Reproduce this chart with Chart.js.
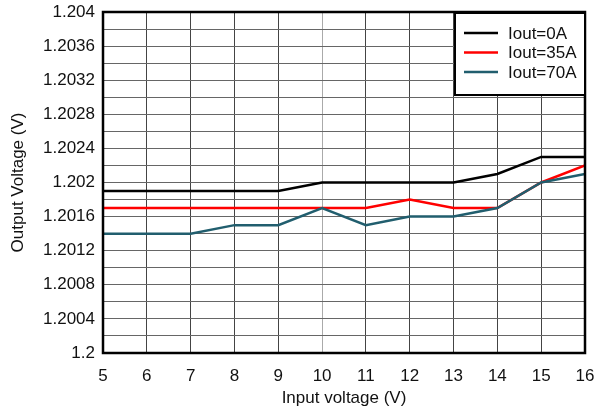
<!DOCTYPE html>
<html>
<head>
<meta charset="utf-8">
<script src="https://cdn.jsdelivr.net/npm/chart.js@4"></script>
<style>
  html, body { margin: 0; padding: 0; background: #fff; }
  #wrap { width: 595px; height: 411px; }
</style>
</head>
<body>
<div id="wrap"><canvas id="voutChart" width="595" height="411"></canvas></div>
<script>
// --- data ---
const inputVoltage = [5, 6, 7, 8, 9, 10, 11, 12, 13, 14, 15, 16];
const vout0A  = [1.2019, 1.2019, 1.2019, 1.2019, 1.2019, 1.2020, 1.2020, 1.2020, 1.2020, 1.2021, 1.2023, 1.2023];
const vout35A = [1.2017, 1.2017, 1.2017, 1.2017, 1.2017, 1.2017, 1.2017, 1.2018, 1.2017, 1.2017, 1.2020, 1.2022];
const vout70A = [1.2014, 1.2014, 1.2014, 1.2015, 1.2015, 1.2017, 1.2015, 1.2016, 1.2016, 1.2017, 1.2020, 1.2021];
const seriesNames = ['Iout=0A', 'Iout=35A', 'Iout=70A'];
const seriesColors = ['#000000', '#ff0000', '#215e6e'];

const FONT = 'Arial, "Liberation Sans", sans-serif';
const FSIZE = 17;

function toPoints(ys) {
    return inputVoltage.map((x, i) => ({ x: x, y: ys[i] }));
}

// plot border + boxed legend inside the plot
const framePlugin = {
    id: 'frame',
    afterDatasetsDraw(chart) {
        const { ctx, chartArea: a } = chart;
        ctx.save();
        ctx.strokeStyle = '#000';
        ctx.lineWidth = 2.5;
        ctx.strokeRect(a.left, a.top, a.right - a.left, a.bottom - a.top);

        // legend box
        const bx = 455, by = 13, bw = 130, bh = 82;
        ctx.fillStyle = '#fff';
        ctx.fillRect(bx, by, bw, bh);
        ctx.lineWidth = 2;
        ctx.strokeRect(bx, by, bw, bh);
        ctx.font = FSIZE + 'px ' + FONT;
        ctx.textBaseline = 'middle';
        chart.data.datasets.forEach((ds, i) => {
            const y = by + 20 + i * 19.5;
            ctx.strokeStyle = ds.borderColor;
            ctx.lineWidth = 2.5;
            ctx.beginPath();
            ctx.moveTo(bx + 9, y);
            ctx.lineTo(bx + 43, y);
            ctx.stroke();
            ctx.fillStyle = '#111';
            ctx.fillText(ds.label, bx + 53, y + 1);
        });
        ctx.restore();
    }
};

new Chart(document.getElementById('voutChart'), {
    type: 'line',
    data: {
        datasets: [vout0A, vout35A, vout70A].map((ys, i) => ({
            label: seriesNames[i],
            data: toPoints(ys),
            borderColor: seriesColors[i],
            backgroundColor: seriesColors[i],
            borderWidth: 2.5,
            pointRadius: 0,
            tension: 0,
            order: 2 - i
        }))
    },
    options: {
        responsive: false,
        animation: false,
        layout: { padding: 0 },
        plugins: {
            legend: { display: false },
            tooltip: { enabled: false }
        },
        scales: {
            x: {
                type: 'linear',
                min: 5,
                max: 16,
                ticks: {
                    stepSize: 1,
                    color: '#111',
                    font: { family: FONT, size: FSIZE },
                    padding: 13,
                    maxRotation: 0
                },
                grid: {
                    color: c => (c.tick && c.tick.value === 10) ? '#aaa' : '#444',
                    lineWidth: 1,
                    drawTicks: false
                },
                border: { display: false },
                title: {
                    display: true,
                    text: 'Input voltage (V)',
                    color: '#111',
                    font: { family: FONT, size: FSIZE },
                    padding: { top: 0, bottom: 2 }
                },
                afterFit: s => {
                    s.height = 58;
                    s.paddingLeft = 0;
                    s.paddingRight = 10;
                }
            },
            y: {
                min: 1.2,
                max: 1.204,
                ticks: {
                    stepSize: 0.0002,
                    color: '#111',
                    font: { family: FONT, size: FSIZE },
                    padding: 8,
                    autoSkip: false,
                    callback: function(value) {
                        const k = Math.round((value - 1.2) / 0.0002);
                        if (k % 2 !== 0) return '';
                        return String(Number(value.toFixed(4)));
                    }
                },
                grid: { color: '#666', lineWidth: 1, drawTicks: false },
                border: { display: false },
                title: {
                    display: true,
                    text: 'Output Voltage (V)',
                    color: '#111',
                    font: { family: FONT, size: FSIZE },
                    padding: { top: 8, bottom: 0 }
                },
                afterFit: s => {
                    s.width = 103;
                    s.paddingTop = 12;
                    s.paddingBottom = 0;
                }
            }
        }
    },
    plugins: [framePlugin]
});
</script>
</body>
</html>
